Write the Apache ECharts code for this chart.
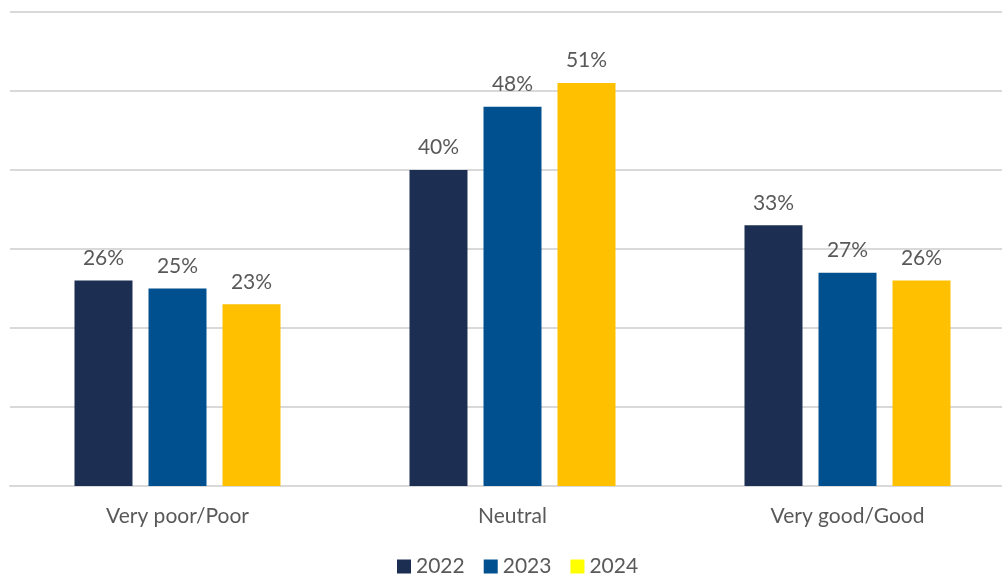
<!DOCTYPE html>
<html>
<head>
<meta charset="utf-8">
<script src="https://cdn.jsdelivr.net/npm/echarts@6/dist/echarts.min.js"></script>
<style>
  html, body { margin: 0; padding: 0; background: #ffffff; overflow: hidden; }
  /* canvas is a little wider than the page so the plot runs off the right edge */
  #chart { width: 1016px; height: 577px; }
</style>
</head>
<body>
<div id="chart"></div>
<script>
// Survey ratings by year (percent of respondents)
const categories = ['Very poor/Poor', 'Neutral', 'Very good/Good'];
const years = ['2022', '2023', '2024'];
const values2022 = [26, 40, 33];
const values2023 = [25, 48, 27];
const values2024 = [23, 51, 26];
const barColors = ['#1C2F52', '#00508F', '#FFC000'];
const legendColors = ['#1C2F52', '#00508F', '#FFFF00'];

const FONT = 'Lato, "Open Sans", sans-serif';
const TEXT = '#595959';

const seriesValues = [values2022, values2023, values2024];

const chart = echarts.init(document.getElementById('chart'), null, { renderer: 'canvas' });

chart.setOption({
  animation: false,
  backgroundColor: '#ffffff',
  textStyle: { fontFamily: FONT },
  grid: { left: 10, top: 12, right: 1, bottom: 91, containLabel: false },
  legend: {
    top: 556,
    left: 397,
    padding: 0,
    itemWidth: 14,
    itemHeight: 14,
    itemGap: 19,
    icon: 'rect',
    textStyle: { color: TEXT, fontSize: 21, fontFamily: FONT },
    data: years.map((y, i) => ({ name: y, itemStyle: { color: legendColors[i] } }))
  },
  xAxis: {
    type: 'category',
    data: categories,
    axisLine: { lineStyle: { color: '#D9D9D9', width: 2 } },
    axisTick: { show: false },
    axisLabel: { color: TEXT, fontSize: 21, margin: 20, fontFamily: FONT }
  },
  yAxis: {
    type: 'value',
    min: 0,
    max: 60,
    interval: 10,
    axisLabel: { show: false },
    axisLine: { show: false },
    axisTick: { show: false },
    splitLine: { lineStyle: { color: '#D9D9D9', width: 2 } }
  },
  series: years.map((y, i) => ({
    name: y,
    type: 'bar',
    data: seriesValues[i],
    barWidth: 58,
    barGap: '27.6%',
    itemStyle: { color: barColors[i] },
    label: {
      show: true,
      position: 'top',
      distance: 12,
      formatter: p => p.value + '%',
      color: TEXT,
      fontSize: 21,
      fontFamily: FONT
    }
  }))
});
</script>
</body>
</html>
